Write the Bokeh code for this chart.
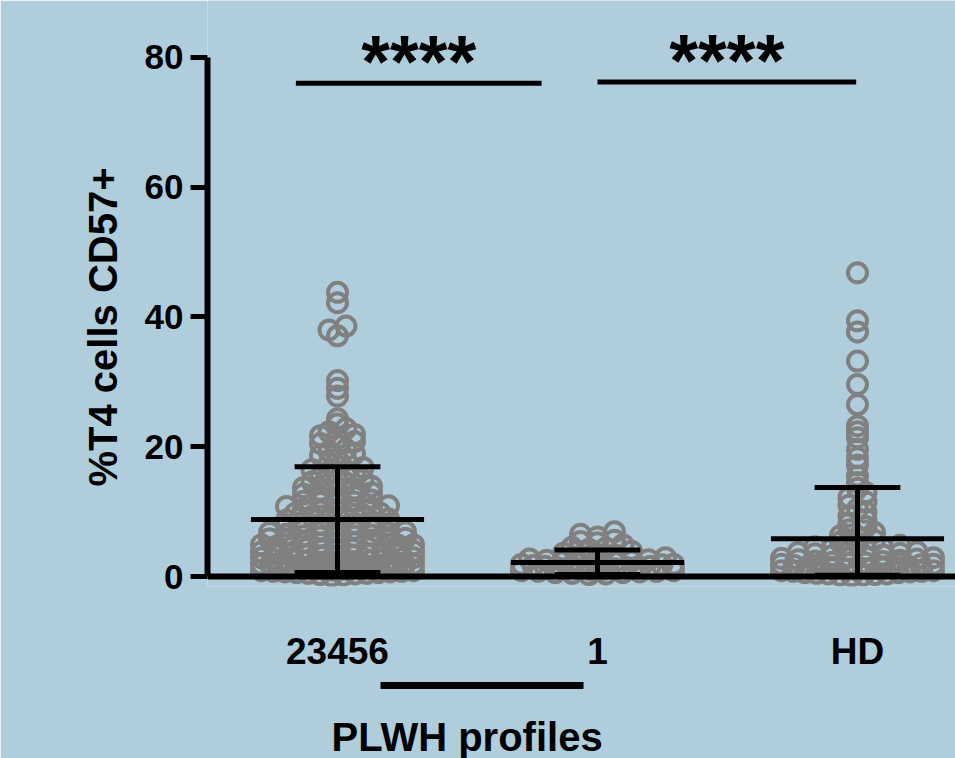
from bokeh.plotting import figure
from bokeh.models import FixedTicker, Span, LinearAxis, Title, ColumnDataSource, Range1d
from bokeh.core.properties import value
from bokeh.embed import file_html
from bokeh.resources import INLINE

# ---------------- data ----------------
categories = ["23456", "1", "HD"]
cat_pos = [0, 1, 2]

vals_23456 = [43.8, 42.2, 38.6, 38.0, 37.1, 30.2, 29.0, 27.8, 24.3, 23.5, 22.8, 22.3,
              21.9, 21.7, 21.3, 20.8, 20.5, 20.2, 19.6, 19.3, 18.9, 18.7, 18.2, 17.9,
              17.4, 16.8, 16.5, 16.3, 16.1, 15.7, 15.3, 15.0, 14.9, 14.6, 14.4, 14.2,
              13.9, 13.7, 13.5, 13.3, 13.1, 12.9, 12.7, 12.5, 12.2, 12.0, 11.8, 11.6,
              11.5, 11.4, 11.2, 10.9, 10.8, 10.6, 10.4, 10.3, 10.1, 10.0, 9.8, 9.7,
              9.5, 9.3, 9.2, 9.0, 8.9, 8.7, 8.5, 8.4, 8.2, 8.1, 8.0, 7.9, 7.8, 7.7,
              7.5, 7.3, 7.2, 7.0, 6.9, 6.8, 6.7, 6.5, 6.4, 6.3, 6.2, 6.1, 6.0, 5.9,
              5.8, 5.7, 5.6, 5.4, 5.3, 5.2, 5.1, 5.0, 4.9, 4.9, 4.8, 4.7, 4.6, 4.5,
              4.4, 4.3, 4.2, 4.1, 4.0, 3.9, 3.8, 3.7, 3.6, 3.6, 3.5, 3.4, 3.3, 3.2,
              3.1, 3.0, 2.9, 2.9, 2.8, 2.7, 2.6, 2.6, 2.5, 2.5, 2.4, 2.3, 2.3, 2.2,
              2.1, 2.0, 2.0, 1.9, 1.9, 1.8, 1.8, 1.7, 1.6, 1.6, 1.5, 1.5, 1.4, 1.4,
              1.3, 1.3, 1.2, 1.2, 1.1, 1.1, 1.0, 0.9, 0.9, 0.8, 0.8, 0.7, 0.7, 0.6,
              0.6, 0.5, 0.5, 0.4, 0.3, 0.2, 0.1]
vals_1 = [6.9, 6.5, 6.1, 5.6, 5.4, 5.2, 4.9, 4.5, 4.4, 4.2, 3.9, 3.6, 3.3, 3.1, 3.0,
          2.9, 2.7, 2.6, 2.5, 2.4, 2.3, 2.2, 2.1, 2.0, 1.9, 1.9, 1.8, 1.7, 1.6, 1.6,
          1.5, 1.4, 1.4, 1.3, 1.2, 1.2, 1.1, 1.0, 0.9, 0.9, 0.8, 0.8, 0.7, 0.6, 0.6,
          0.5, 0.4, 0.3]
vals_hd = [46.8, 39.4, 37.7, 33.2, 29.6, 26.5, 23.2, 22.3, 21.4, 19.6, 18.3, 17.2,
           15.5, 14.5, 13.6, 12.9, 12.2, 11.5, 11.0, 10.4, 9.9, 9.3, 8.8, 8.2, 7.7,
           7.2, 6.8, 6.3, 6.0, 5.6, 5.3, 5.0, 4.8, 4.6, 4.4, 4.3, 4.1, 4.0, 3.8,
           3.7, 3.6, 3.5, 3.3, 3.2, 3.1, 3.0, 2.9, 2.8, 2.7, 2.6, 2.5, 2.4, 2.3,
           2.2, 2.1, 2.0, 1.9, 1.9, 1.8, 1.7, 1.6, 1.5, 1.4, 1.3, 1.3, 1.2, 1.1,
           1.1, 1.0, 0.9, 0.9, 0.8, 0.8, 0.7, 0.6, 0.6, 0.5, 0.4, 0.4, 0.3, 0.2,
           0.2, 0.1]

means = [8.8, 2.15, 5.8]
upper = [16.9, 4.1, 13.7]
lower = [0.6, 0.3, 0.2]

sig_x0 = [-0.16, 1.0]
sig_x1 = [0.785, 1.995]
sig_y = [76.0, 76.2]
sig_text = ["****", "****"]

group_bar = (0.165, 0.946)
group_label = "PLWH profiles"
y_label = "%T4 cells CD57+"
y_ticks = [0, 20, 40, 60, 80]

# ---------------- styling ----------------
BG = "#b0cddb"
GRAY = "#808080"
FONT = "Liberation Sans"
PX_PER_X = 260.0


def swarm(vals, center, bin_units=1.0, d_px=17.0, w_px=76.0):
    vs = sorted(vals)
    bins = {}
    for v in vs:
        bins.setdefault(int(v // bin_units), []).append(v)
    xs, ys = [], []
    for _, row in bins.items():
        n = len(row)
        if n == 1:
            offs = [0.0]
        else:
            s = min(d_px, 2 * w_px / (n - 1))
            offs = [(i - (n - 1) / 2) * s for i in range(n)]
        offs = sorted(offs, key=abs)
        for v, o in zip(row, offs):
            xs.append(center + o / PX_PER_X)
            ys.append(v)
    return xs, ys


def spacer_axis(gap):
    # empty axis whose only purpose is to leave a gap of `gap` pixels
    return LinearAxis(ticker=FixedTicker(ticks=[-0.5]), axis_line_color=None,
                      major_tick_out=gap, major_tick_in=0, major_tick_line_color=None,
                      minor_tick_line_color=None, major_label_standoff=0,
                      major_label_overrides={-0.5: ""}, major_label_text_font_size="0px")


p = figure(width=955, height=758, output_backend="svg", toolbar_location=None,
           x_range=Range1d(-0.5, 2.377), y_range=Range1d(-1.54, 88.77),
           min_border_left=207, min_border_right=0, min_border_top=0,
           min_border_bottom=171)
p.background_fill_color = BG
p.border_fill_color = BG
p.outline_line_color = None
p.xgrid.visible = False
p.ygrid.visible = False

for vals, c in zip([vals_23456, vals_1, vals_hd], cat_pos):
    xs, ys = swarm(vals, c)
    p.scatter(xs, ys, marker="circle", size=19, fill_color=None,
              line_color=GRAY, line_width=4)

# error bars (mean +/- SD)
p.segment(x0=[c - 0.333 for c in cat_pos], x1=[c + 0.333 for c in cat_pos],
          y0=means, y1=means, line_color="black", line_width=5)
p.segment(x0=cat_pos, x1=cat_pos, y0=lower, y1=upper, line_color="black", line_width=5)
p.segment(x0=[c - 0.165 for c in cat_pos], x1=[c + 0.165 for c in cat_pos],
          y0=upper, y1=upper, line_color="black", line_width=5)
p.segment(x0=[c - 0.165 for c in cat_pos], x1=[c + 0.165 for c in cat_pos],
          y0=lower, y1=lower, line_color="black", line_width=5)

# significance bars
p.segment(x0=sig_x0, x1=sig_x1, y0=sig_y, y1=sig_y, line_color="black", line_width=5)
sig_src = ColumnDataSource(dict(x=[(a + b) / 2 for a, b in zip(sig_x0, sig_x1)],
                                y=sig_y, t=sig_text))
p.text(x="x", y="y", text="t", source=sig_src, text_align="center",
       text_baseline="alphabetic", y_offset=-22, text_font=value(FONT),
       text_font_style="bold", text_font_size="74px", text_color="black")

# x axis line at 0
p.add_layout(Span(location=0, dimension="width", line_color="black", line_width=6))

# y axis
ya = p.yaxis[0]
ya.ticker = FixedTicker(ticks=y_ticks)
ya.bounds = (0, 80)
ya.axis_line_width = 6
ya.axis_line_color = "black"
ya.major_tick_out = 17
ya.major_tick_in = 0
ya.major_tick_line_width = 5
ya.minor_tick_line_color = None
ya.major_label_standoff = 7
ya.major_label_text_font = FONT
ya.major_label_text_font_style = "bold"
ya.major_label_text_font_size = "35px"
ya.major_label_text_color = "black"
p.add_layout(Title(text=y_label, align="left", offset=100, standoff=34,
                   text_font=FONT, text_font_style="bold", text_font_size="40px",
                   text_color="black"), "left")

# x axis (category labels)
xa = p.xaxis[0]
xa.ticker = FixedTicker(ticks=cat_pos)
xa.major_label_overrides = {c: s for c, s in zip(cat_pos, categories)}
xa.axis_line_color = None
xa.major_tick_line_color = None
xa.minor_tick_line_color = None
xa.major_tick_out = 0
xa.major_tick_in = 0
xa.major_label_standoff = 44
xa.major_label_text_font = FONT
xa.major_label_text_font_style = "bold"
xa.major_label_text_font_size = "37px"
xa.major_label_text_color = "black"

# gap, grouping bar axis, gap, group title
p.add_layout(spacer_axis(11), "below")
bar_axis = LinearAxis(ticker=FixedTicker(ticks=[]), bounds=group_bar,
                      axis_line_color="black", axis_line_width=7,
                      major_tick_out=0, major_tick_in=0, major_tick_line_color=None,
                      minor_tick_line_color=None, major_label_text_font_size="0px")
p.add_layout(bar_axis, "below")
p.add_layout(spacer_axis(27), "below")
p.add_layout(Title(text=group_label, align="left", offset=124, standoff=0,
                   text_font=FONT, text_font_style="bold", text_font_size="40px",
                   text_color="black"), "below")

open("out.html", "w").write(file_html(p, INLINE))
